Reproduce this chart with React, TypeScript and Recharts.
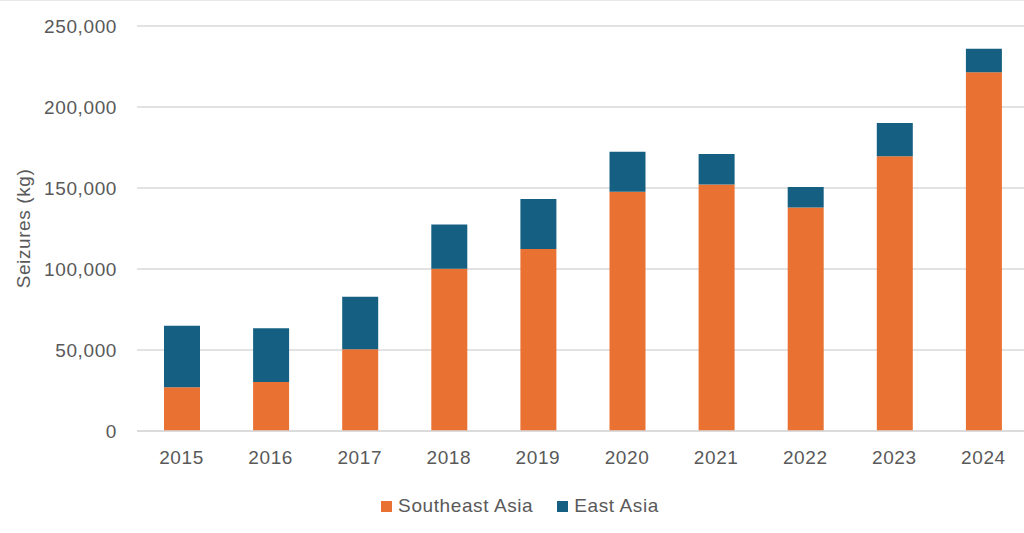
import { Bar, BarChart, CartesianGrid, Legend, XAxis, YAxis } from "recharts";

const years = ["2015", "2016", "2017", "2018", "2019", "2020", "2021", "2022", "2023", "2024"];
const southeastAsia = [27000, 30300, 50500, 100200, 112400, 147700, 152200, 138000, 169600, 221500];
const eastAsia = [38000, 33200, 32400, 27300, 30800, 24600, 18800, 12600, 20600, 14500];
const yTicks = [0, 50000, 100000, 150000, 200000, 250000];
const seriesOrder = ["Southeast Asia", "East Asia"];

const data = years.map((year, i) => ({
  year,
  southeast: southeastAsia[i],
  east: eastAsia[i],
}));

const FONT = '"Liberation Sans", Arial, sans-serif';
const TEXT = "#595959";
const GRID = "#d9d9d9";

function LegendContent({ payload }: any) {
  const items = [...(payload ?? [])].sort(
    (a: any, b: any) => seriesOrder.indexOf(a.value) - seriesOrder.indexOf(b.value),
  );
  return (
    <div
      style={{
        display: "flex",
        justifyContent: "center",
        gap: 24,
        fontFamily: FONT,
        fontSize: 19,
        letterSpacing: 0.6,
        color: TEXT,
        paddingLeft: 12,
        paddingTop: 14,
      }}
    >
      {items.map((entry: any) => (
        <span key={entry.value} style={{ display: "flex", alignItems: "center", gap: 6 }}>
          <span style={{ width: 11, height: 11, background: entry.color, display: "inline-block" }} />
          {entry.value}
        </span>
      ))}
    </div>
  );
}

export default function App() {
  return (
    <div
      style={{
        position: "absolute",
        left: 0,
        top: 0,
        width: 1024,
        height: 533,
        overflow: "hidden",
        background: "#fff",
        borderTop: "1px solid #e8e8e8",
        boxSizing: "border-box",
      }}
    >
      <BarChart
        width={1028}
        height={532}
        data={data}
        margin={{ top: 25, right: 0, left: 0, bottom: 6 }}
        barSize={36}
      >
        <CartesianGrid vertical={false} stroke={GRID} strokeWidth={1.5} />
        <XAxis
          dataKey="year"
          height={50}
          tickLine={false}
          tickSize={0}
          tickMargin={20}
          axisLine={{ stroke: GRID, strokeWidth: 1.5 }}
          tick={{ fill: TEXT, fontSize: 19, fontFamily: FONT, letterSpacing: 0.6 }}
        />
        <YAxis
          width={137}
          domain={[0, 250000]}
          ticks={yTicks}
          axisLine={false}
          tickLine={false}
          tickSize={0}
          tickMargin={20}
          tick={{ fill: TEXT, fontSize: 19, fontFamily: FONT, letterSpacing: 0.6 }}
          tickFormatter={(v) => Number(v).toLocaleString("en-US")}
          label={{
            value: "Seizures (kg)",
            angle: -90,
            position: "insideLeft",
            offset: 23,
            style: { textAnchor: "middle", fill: TEXT, fontSize: 19, fontFamily: FONT, letterSpacing: 0.6 },
          }}
        />
        <Legend verticalAlign="bottom" height={46} content={<LegendContent />} />
        <Bar dataKey="southeast" name="Southeast Asia" stackId="a" fill="#E97132" isAnimationActive={false} />
        <Bar dataKey="east" name="East Asia" stackId="a" fill="#156082" isAnimationActive={false} />
      </BarChart>
    </div>
  );
}
